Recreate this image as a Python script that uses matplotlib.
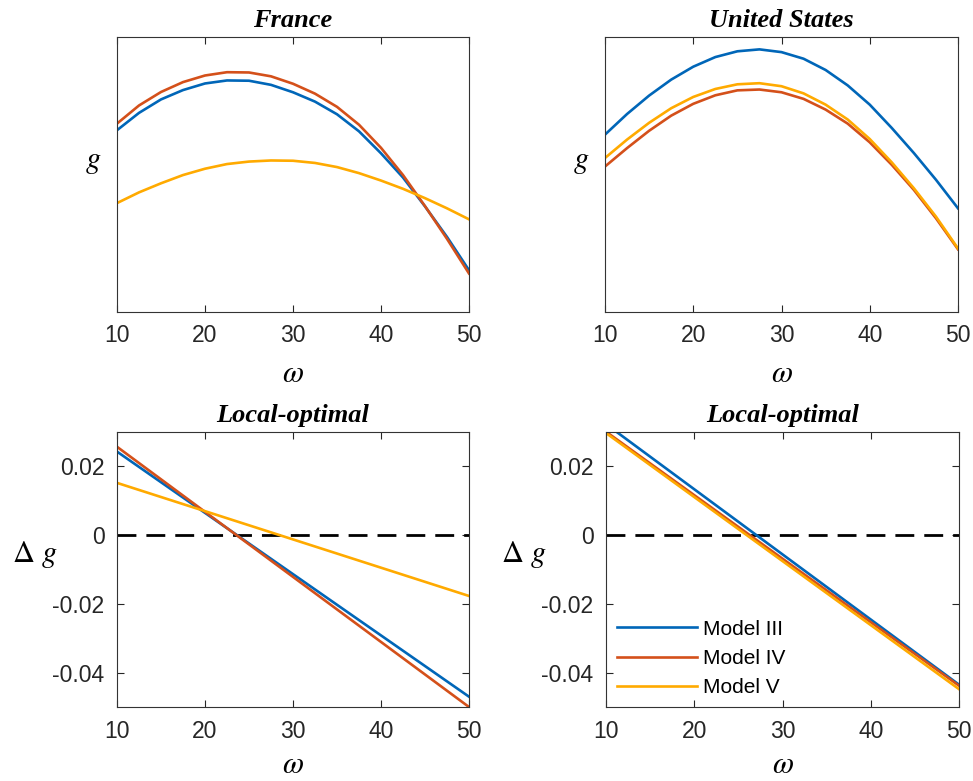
import numpy as np
import matplotlib
matplotlib.use('Agg')
import matplotlib.pyplot as plt
import matplotlib as mpl

params = {'font.family': 'Liberation Sans',
          'mathtext.fontset': 'stix',
          'axes.unicode_minus': False,
          'axes.edgecolor': '#333333',
          'axes.linewidth': 0.8,
          'xtick.color': '#262626',
          'ytick.color': '#262626',
          'xtick.direction': 'in',
          'ytick.direction': 'in'}
mpl.rcParams.update(params)

# omega grid used for the g curves (top row)
omega = [10, 12.5, 15, 17.5, 20, 22.5, 25, 27.5, 30, 32.5, 35, 37.5, 40, 42.5, 45, 47.5, 50]

# g values (axis has no scale, so 0..1 of the panel height)
fr_m3 = [0.661, 0.724, 0.773, 0.807, 0.831, 0.842, 0.841, 0.826, 0.799, 0.765, 0.719,
         0.657, 0.577, 0.489, 0.384, 0.273, 0.152]
fr_m4 = [0.685, 0.751, 0.800, 0.836, 0.860, 0.872, 0.871, 0.857, 0.830, 0.794, 0.746,
         0.681, 0.597, 0.498, 0.385, 0.266, 0.140]
fr_m5 = [0.396, 0.435, 0.468, 0.498, 0.521, 0.538, 0.547, 0.551, 0.550, 0.542, 0.527,
         0.505, 0.478, 0.448, 0.414, 0.377, 0.337]

us_m3 = [0.645, 0.720, 0.787, 0.845, 0.892, 0.927, 0.948, 0.955, 0.945, 0.921, 0.880,
         0.824, 0.754, 0.669, 0.578, 0.481, 0.377]
us_m4 = [0.529, 0.596, 0.659, 0.714, 0.757, 0.788, 0.806, 0.809, 0.799, 0.775, 0.736,
         0.685, 0.617, 0.535, 0.444, 0.341, 0.228]
us_m5 = [0.560, 0.627, 0.688, 0.741, 0.782, 0.811, 0.828, 0.832, 0.821, 0.795, 0.754,
         0.700, 0.629, 0.544, 0.450, 0.347, 0.231]

# local-optimal Delta g (straight lines, end points)
omega_lo = [10, 50]
fr_d3 = [0.0243, -0.0470]
fr_d4 = [0.0257, -0.0500]
fr_d5 = [0.0152, -0.0177]
us_d3 = [0.0323, -0.0435]
us_d4 = [0.0301, -0.0438]
us_d5 = [0.0297, -0.0448]

labels = ['Model III', 'Model IV', 'Model V']
colors = ['#0066b8', '#d4501a', '#ffaa00']

xticks = [10, 20, 30, 40, 50]
dg_ticks = [-0.04, -0.02, 0, 0.02]
dg_ticklabels = ['-0.04', '-0.02', '0', '0.02']

W, H = 973, 781
fig = plt.figure(figsize=(W / 100, H / 100), dpi=100)

# axes boxes in pixels: left, top, right, bottom
boxes = [(117, 37, 469, 312), (605, 37, 958, 312),
         (117, 432, 469, 707), (606, 432, 959, 707)]
axs = [fig.add_axes([l / W, (H - b) / H, (r - l) / W, (b - t) / H]) for l, t, r, b in boxes]

title_font = dict(family='Liberation Serif', weight='bold', style='italic', size=19)


def style(ax, xlab_y):
    ax.set_xlim(10, 50)
    ax.set_xticks(xticks)
    ax.tick_params(which='both', top=True, right=True, length=5, width=0.8,
                   labelsize=16.5, pad=9)
    ax.set_xlabel(r'$\omega$', fontsize=22)
    ax.xaxis.set_label_coords(0.5, xlab_y)
    ax.xaxis.label.set_va('center')


# top row: g curves
for ax, series, name in [(axs[0], [fr_m3, fr_m4, fr_m5], 'France'),
                         (axs[1], [us_m3, us_m4, us_m5], 'United States')]:
    for s, c in zip(series, colors):
        ax.plot(omega, s, color=c, lw=1.9)
    style(ax, -0.225)
    ax.set_ylim(0, 1)
    ax.set_yticks([])
    ax.set_title(name, pad=7, **title_font)
    ax.set_ylabel(r'$g$', fontsize=22, rotation=0, ha='right', va='center')
    ax.yaxis.set_label_coords(-0.045, 0.55)

# bottom row: Delta g
for ax, series in [(axs[2], [fr_d3, fr_d4, fr_d5]),
                   (axs[3], [us_d3, us_d4, us_d5])]:
    ax.axhline(0, color='k', lw=2, dashes=(6.8, 3.6))
    for s, c, lab in zip(series, colors, labels):
        ax.plot(omega_lo, s, color=c, lw=1.9, label=lab)
    style(ax, -0.212)
    ax.set_ylim(-0.05, 0.03)
    ax.set_yticks(dg_ticks)
    ax.set_yticklabels(dg_ticklabels)
    ax.set_title('Local-optimal', pad=7, **title_font)
    ax.set_ylabel(r'$\Delta\ g$', fontsize=22, rotation=0, ha='right', va='center')
    ax.yaxis.set_label_coords(-0.168, 0.553)

axs[3].legend(loc='lower left', bbox_to_anchor=(0.03, 0.035), frameon=False,
              fontsize=15, handlelength=3.85, handletextpad=0.28, labelspacing=0.5,
              borderpad=0, borderaxespad=0)

fig.savefig('out.png', dpi=100)
